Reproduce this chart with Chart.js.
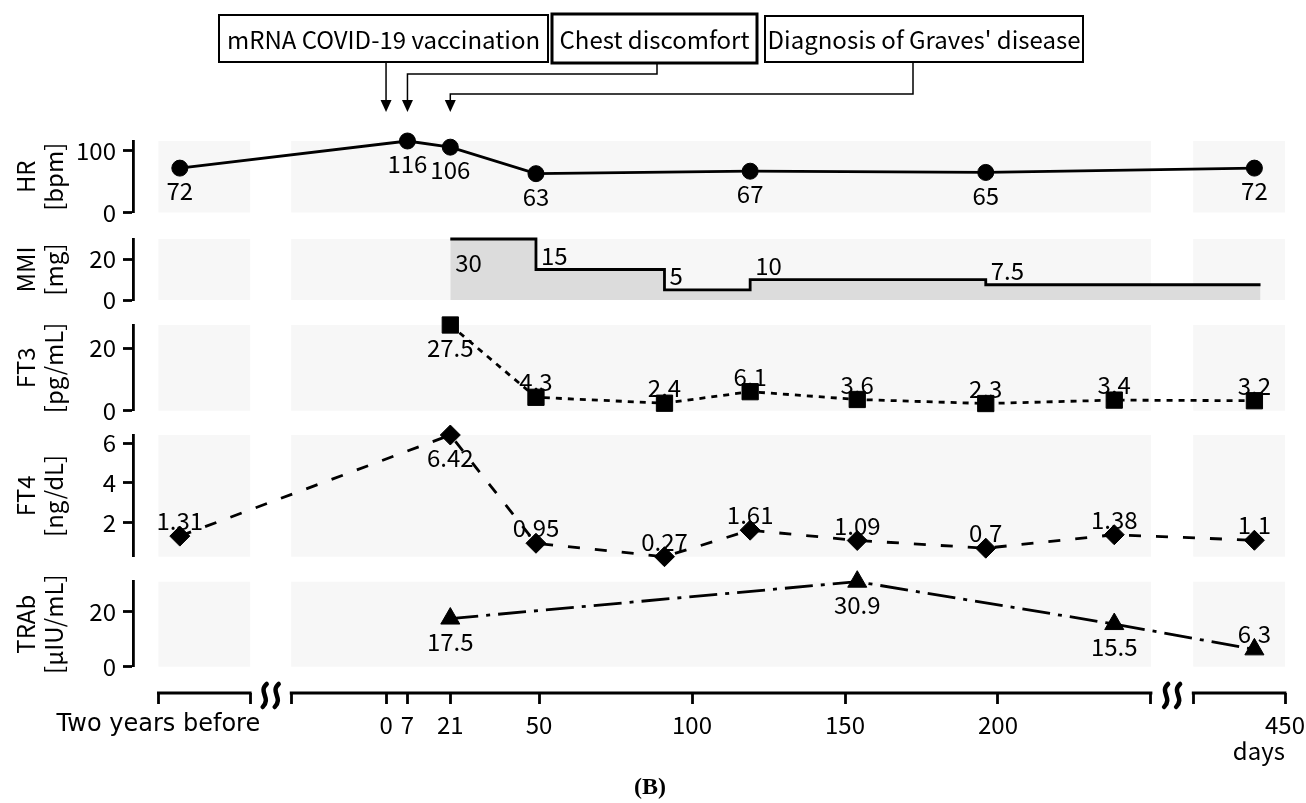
<!DOCTYPE html>
<html>
<head>
<meta charset="utf-8">
<script src="https://cdn.jsdelivr.net/npm/chart.js@4.4.1/dist/chart.umd.min.js"></script>
<style>
  html, body { margin: 0; padding: 0; background: #fff; }
</style>
</head>
<body>
<canvas id="chart" width="1306" height="803"></canvas>
<script>
// ---- data (days after the first vaccination) ----
const BEFORE = -730; // visit two years before

const hrDays = [BEFORE, 7, 21, 49, 119, 196, 440];
const hrValues = [72, 116, 106, 63, 67, 65, 72];

const mmiDays = [21, 49, 91, 119, 196, 442];
const mmiDoses = [30, 15, 5, 10, 7.5, 7.5];

const ft3Days = [21, 49, 91, 119, 154, 196, 238, 440];
const ft3Values = [27.5, 4.3, 2.4, 6.1, 3.6, 2.3, 3.4, 3.2];

const ft4Days = [BEFORE, 21, 49, 91, 119, 154, 196, 238, 440];
const ft4Values = [1.31, 6.42, 0.95, 0.27, 1.61, 1.09, 0.7, 1.38, 1.1];

const trabDays = [21, 154, 238, 440];
const trabValues = [17.5, 30.9, 15.5, 6.3];

const xTickDays = [-737, -707, -31, 0, 7, 21, 50, 100, 150, 200, 250, 420, 450];
const xTickLabels = ['Two years before', '', '', '0', '7', '21', '50', '100', '150', '200', '', '', '450'];

// broken x axis: three pieces
const xSegments = [[-737, -707], [-31, 250], [420, 450]];

const events = [
  { text: 'mRNA COVID-19 vaccination', day: 0 },
  { text: 'Chest discomfort', day: 7 },
  { text: "Diagnosis of Graves' disease", day: 21 }
];

// days -> position on the broken axis
function axisPos(d) {
  if (d < -300) return d + 662.6;
  if (d > 300) return d - 156.2;
  return d;
}
function pts(days, vals) {
  return days.map((d, i) => ({ x: axisPos(d), y: vals[i] }));
}

const FONT = '"Noto Sans CJK JP", "Noto Sans", sans-serif';
const FS = 24;
const panelIds = ['yHR', 'yMMI', 'yFT3', 'yFT4', 'yTRAb'];

function panelAxis(title, min, max, ticks, weight) {
  return {
    type: 'linear', position: 'left', stack: 'panels', stackWeight: weight,
    min: min, max: max,
    afterBuildTicks: s => { s.ticks = ticks.map(v => ({ value: v })); },
    afterFit: s => { s.width = 133; },
    border: { display: true, color: '#000', width: 2.8 },
    grid: { display: true, drawOnChartArea: false, drawTicks: true, tickLength: 10, tickColor: '#000', tickWidth: 2.8 },
    ticks: { color: '#000', font: { family: FONT, size: FS }, padding: 7 },
    title: { display: true, text: title, color: '#000', font: { family: FONT, size: FS, lineHeight: 1.17 }, padding: { top: 12 } }
  };
}
function spacerAxis(weight) {
  return {
    type: 'linear', position: 'left', stack: 'panels', stackWeight: weight,
    afterFit: s => { s.width = 133; },
    border: { display: false }, grid: { display: false }, ticks: { display: false }
  };
}

const decor = {
  id: 'decor',
  beforeDatasetsDraw(chart) {
    const ctx = chart.ctx, xs = chart.scales.x;
    ctx.save();
    ctx.fillStyle = '#f7f7f7';
    panelIds.forEach(id => {
      const ys = chart.scales[id];
      xSegments.forEach(([a, b]) => {
        const x0 = xs.getPixelForValue(axisPos(a)), x1 = xs.getPixelForValue(axisPos(b));
        ctx.fillRect(x0, ys.top, x1 - x0, ys.bottom - ys.top);
      });
    });
    ctx.restore();
  },
  afterDatasetsDraw(chart) {
    const ctx = chart.ctx;
    ctx.save();
    ctx.fillStyle = '#000';
    ctx.font = FS + 'px ' + FONT;
    ctx.textBaseline = 'middle';
    chart.data.datasets.forEach((ds, di) => {
      if (!ds.labelPlace) return;
      chart.getDatasetMeta(di).data.forEach((el, i) => {
        const place = ds.labelPlace[i];
        if (!place) return;
        const txt = String(ds.data[i].y);
        if (place === 'above') { ctx.textAlign = 'center'; ctx.fillText(txt, el.x, el.y - 15); }
        else if (place === 'below') { ctx.textAlign = 'center'; ctx.fillText(txt, el.x, el.y + 23); }
        else if (place === 'belowRight') { ctx.textAlign = 'left'; ctx.fillText(txt, el.x + 5, el.y + 24); }
        else { ctx.textAlign = 'left'; ctx.fillText(txt, el.x + 5, el.y - 14); }
      });
    });
    ctx.restore();
  },
  afterDraw(chart) {
    const ctx = chart.ctx, xs = chart.scales.x;
    ctx.save();
    ctx.strokeStyle = '#000';
    ctx.fillStyle = '#000';

    // broken x axis line
    const yAxis = xs.top;
    ctx.lineWidth = 2.8;
    xSegments.forEach(([a, b]) => {
      ctx.beginPath();
      ctx.moveTo(xs.getPixelForValue(axisPos(a)) - 1.4, yAxis);
      ctx.lineTo(xs.getPixelForValue(axisPos(b)) + 1.4, yAxis);
      ctx.stroke();
    });
    // break marks
    ctx.lineWidth = 4.5;
    ctx.lineCap = 'round';
    for (let k = 0; k < xSegments.length - 1; k++) {
      const cx = (xs.getPixelForValue(axisPos(xSegments[k][1])) + xs.getPixelForValue(axisPos(xSegments[k + 1][0]))) / 2;
      [-6, 6].forEach(dx => {
        const x = cx + dx;
        ctx.beginPath();
        ctx.moveTo(x + 2, yAxis - 9);
        ctx.bezierCurveTo(x - 7, yAxis - 1, x + 7, yAxis + 5, x - 2, yAxis + 14);
        ctx.stroke();
      });
    }
    ctx.lineCap = 'butt';

    // event boxes and arrows
    const boxes = [
      { x: 219, y: 15, w: 329, h: 47, lw: 2 },
      { x: 552, y: 14, w: 205, h: 49, lw: 3 },
      { x: 765, y: 16, w: 318, h: 46, lw: 2 }
    ];
    const elbowY = [null, 74, 94];
    const stemX = [null, 657, 913];
    const tipY = 112, headH = 12, headW = 5.5;
    ctx.font = FS + 'px ' + FONT;
    ctx.textAlign = 'center';
    ctx.textBaseline = 'middle';
    events.forEach((ev, i) => {
      const b = boxes[i];
      ctx.fillStyle = '#fff';
      ctx.fillRect(b.x, b.y, b.w, b.h);
      ctx.lineWidth = b.lw;
      ctx.strokeRect(b.x, b.y, b.w, b.h);
      ctx.fillStyle = '#000';
      ctx.fillText(ev.text, b.x + b.w / 2, b.y + b.h / 2 + 1);

      const ax = xs.getPixelForValue(axisPos(ev.day));
      ctx.lineWidth = 1.5;
      ctx.beginPath();
      if (elbowY[i] === null) {
        ctx.moveTo(ax, b.y + b.h);
      } else {
        ctx.moveTo(stemX[i], b.y + b.h);
        ctx.lineTo(stemX[i], elbowY[i]);
        ctx.lineTo(ax, elbowY[i]);
      }
      ctx.lineTo(ax, tipY - headH);
      ctx.stroke();
      ctx.beginPath();
      ctx.moveTo(ax - headW, tipY - headH);
      ctx.lineTo(ax + headW, tipY - headH);
      ctx.lineTo(ax, tipY);
      ctx.closePath();
      ctx.fill();
    });

    // panel tag
    ctx.font = 'bold 24px "Liberation Serif", "DejaVu Serif", serif';
    ctx.fillText('(B)', 650, 788);
    ctx.restore();
  }
};

const markerBase = { borderColor: '#000', pointBackgroundColor: '#000', pointBorderColor: '#000', pointBorderWidth: 1, borderWidth: 2.8, clip: false, tension: 0 };

new Chart(document.getElementById('chart'), {
  type: 'line',
  data: {
    datasets: [
      Object.assign({}, markerBase, {
        label: 'HR', yAxisID: 'yHR', data: pts(hrDays, hrValues),
        pointStyle: 'circle', pointRadius: 8,
        labelPlace: ['below', 'below', 'below', 'below', 'below', 'below', 'below']
      }),
      {
        label: 'MMI', yAxisID: 'yMMI', data: pts(mmiDays, mmiDoses),
        stepped: 'before', fill: 'origin', backgroundColor: '#dcdcdc',
        borderColor: '#000', borderWidth: 2.8, pointRadius: 0, clip: false,
        labelPlace: ['belowRight', 'aboveRight', 'aboveRight', 'aboveRight', 'aboveRight', null]
      },
      Object.assign({}, markerBase, {
        label: 'FT3', yAxisID: 'yFT3', data: pts(ft3Days, ft3Values),
        pointStyle: 'rect', pointRadius: 11.5, borderDash: [6, 6],
        labelPlace: ['below', 'above', 'above', 'above', 'above', 'above', 'above', 'above']
      }),
      Object.assign({}, markerBase, {
        label: 'FT4', yAxisID: 'yFT4', data: pts(ft4Days, ft4Values),
        pointStyle: 'rectRot', pointRadius: 10, borderDash: [12, 15],
        labelPlace: ['above', 'below', 'above', 'above', 'above', 'above', 'above', 'above', 'above']
      }),
      Object.assign({}, markerBase, {
        label: 'TRAb', yAxisID: 'yTRAb', data: pts(trabDays, trabValues),
        pointStyle: 'triangle', pointRadius: 11, borderDash: [28, 8, 4, 8],
        labelPlace: ['below', 'below', 'below', 'above']
      })
    ]
  },
  options: {
    responsive: false,
    animation: false,
    devicePixelRatio: 1,
    layout: { padding: { left: 0, right: 21, top: 141, bottom: 0 } },
    plugins: { legend: { display: false }, tooltip: { enabled: false } },
    scales: {
      // stacked axes are laid out bottom-up
      g5: spacerAxis(26.3),
      yTRAb: panelAxis(['TRAb', '[μIU/mL]'], 0, 30.9, [0, 20], 85),
      g4: spacerAxis(25),
      yFT4: panelAxis(['FT4', '[ng/dL]'], 0.27, 6.42, [2, 4, 6], 121.7),
      g3: spacerAxis(24.3),
      yFT3: panelAxis(['FT3', '[pg/mL]'], 0, 27.5, [0, 20], 85.7),
      g2: spacerAxis(25),
      yMMI: panelAxis(['MMI', '[mg]'], 0, 30, [0, 20], 61),
      g1: spacerAxis(26.5),
      yHR: panelAxis(['HR', '[bpm]'], 0, 116, [0, 100], 71.5),
      x: {
        type: 'linear', position: 'bottom', min: -82.7, max: 293.8,
        afterBuildTicks: s => { s.ticks = xTickDays.map(d => ({ value: axisPos(d) })); },
        afterFit: s => { s.height = 110; s.paddingLeft = 0; s.paddingRight = 0; },
        border: { display: false },
        grid: { display: true, drawOnChartArea: false, drawTicks: true, tickLength: 11, tickWidth: 2.8, tickColor: '#000' },
        ticks: {
          autoSkip: false, maxRotation: 0, padding: 6, color: '#000',
          font: c => (c.index === 0 ? { family: '"DejaVu Sans", sans-serif', size: 24 } : { family: FONT, size: FS }),
          callback: (v, i) => xTickLabels[i]
        },
        title: { display: true, text: 'days', align: 'end', color: '#000', font: { family: FONT, size: FS }, padding: { top: 0, bottom: 38 } }
      }
    }
  },
  plugins: [decor]
});
</script>
</body>
</html>
